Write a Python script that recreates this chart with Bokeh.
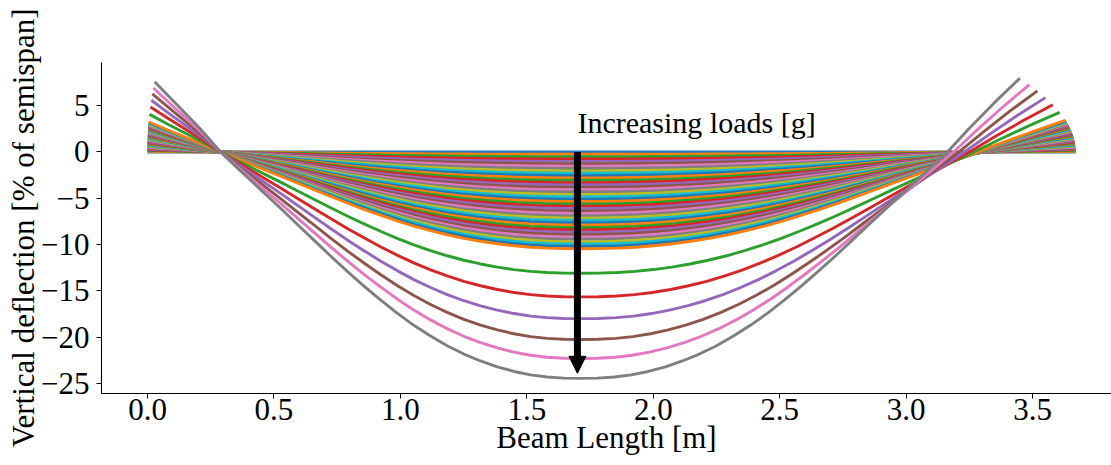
import numpy as np
from bokeh.plotting import figure
from bokeh.models import Range1d, FixedTicker, Arrow, NormalHead, Label
from bokeh.embed import file_html
from bokeh.resources import INLINE

# Peak (minimum) vertical deflection of each load case [% of semispan]
max_deflection = [
    0.0, -0.25, -0.51, -0.76, -1.02, -1.27, -1.53, -1.78, -2.04, -2.29,
    -2.55, -2.80, -3.06, -3.31, -3.57, -3.82, -4.08, -4.33, -4.59, -4.84,
    -5.10, -5.35, -5.61, -5.86, -6.12, -6.37, -6.63, -6.88, -7.14, -7.39,
    -7.65, -7.90, -8.16, -8.41, -8.67, -8.92, -9.18, -9.43, -9.69, -9.94,
    -10.20, -10.45,
    -13.1, -15.65, -18.0, -20.25, -22.3, -24.45,
]

# Deformed shape of the heaviest load case (x [m], deflection [%])
profile_x_max = [0.028, 0.10, 0.20, 0.289, 0.35, 0.42, 0.526, 0.592, 0.658, 0.724,
                 0.790, 0.856, 0.921, 0.987, 1.053, 1.119, 1.185, 1.251, 1.317, 1.383,
                 1.449, 1.515, 1.580, 1.646, 1.712, 1.779, 1.847, 1.913, 1.980, 2.048,
                 2.115, 2.182, 2.250, 2.317, 2.384, 2.452, 2.519, 2.585, 2.652, 2.720,
                 2.787, 2.854, 2.922, 3.030, 3.101, 3.163, 3.25, 3.35, 3.45]
profile_y_max = [7.58, 5.55, 2.75, 0.0, -1.58, -3.38, -6.08, -7.80, -9.52, -11.23,
                 -12.90, -14.48, -15.98, -17.40, -18.72, -19.88, -20.92, -21.82, -22.57, -23.20,
                 -23.70, -24.07, -24.30, -24.42, -24.45, -24.42, -24.30, -24.07, -23.70, -23.20,
                 -22.57, -21.82, -20.92, -19.88, -18.72, -17.40, -15.98, -14.48, -12.90, -11.23,
                 -9.52, -7.80, -6.08, -3.38, -1.58, 0.0, 2.55, 5.35, 7.97]
# Undeformed (no load) position of the same beam points [m]
profile_x_rest = [0.0, 0.075, 0.185, 0.289, 0.35, 0.42, 0.526, 0.592, 0.658, 0.724,
                  0.790, 0.856, 0.921, 0.987, 1.053, 1.119, 1.185, 1.251, 1.317, 1.383,
                  1.449, 1.515, 1.580, 1.646, 1.712, 1.786, 1.861, 1.934, 2.008, 2.083,
                  2.157, 2.231, 2.306, 2.379, 2.453, 2.528, 2.602, 2.675, 2.749, 2.824,
                  2.898, 2.972, 3.047, 3.166, 3.244, 3.310, 3.420, 3.545, 3.670]

tab10 = ['#1f77b4', '#ff7f0e', '#2ca02c', '#d62728', '#9467bd',
         '#8c564b', '#e377c2', '#7f7f7f', '#bcbd22', '#17becf']

xr = np.array(profile_x_rest, dtype=float)
xm = np.array(profile_x_max, dtype=float)
ym = np.array(profile_y_max, dtype=float)
ymin_ref = float(ym.min())

xs, ys, cols = [], [], []
for k, d in enumerate(max_deflection):
    r = d / ymin_ref
    xs.append(list(xr + (xm - xr) * r * r))
    ys.append(list(ym * r))
    cols.append(tab10[k % 10])

FONT = "Liberation Serif"
TICK_FS = "31px"
LABEL_FS = "31px"

X_START, X_END = -0.182, 3.812
Y_START, Y_END = -26.08, 9.66

p = figure(width=1111, height=465, output_backend="svg", toolbar_location=None,
           x_range=Range1d(X_START, X_END), y_range=Range1d(Y_START, Y_END),
           min_border_left=101, min_border_right=0, min_border_top=62, min_border_bottom=72)
p.background_fill_color = "white"
p.border_fill_color = "white"
p.outline_line_color = None
p.grid.visible = False

p.multi_line(xs=xs, ys=ys, line_color=cols, line_width=2.9, line_join="round")

# arrow
arrow_x = 1.70
arrow_top = 0.0
arrow_tip = -23.9
head_len = 1.75
p.segment(x0=[arrow_x], y0=[arrow_top], x1=[arrow_x], y1=[arrow_tip + head_len],
          line_color="black", line_width=7, line_cap="butt")
p.add_layout(Arrow(end=NormalHead(size=17, fill_color="black", line_color="black", line_width=1),
                   x_start=arrow_x, y_start=arrow_tip + head_len, x_end=arrow_x, y_end=arrow_tip,
                   line_alpha=0))
p.add_layout(Label(x=arrow_x, y=3.15, text="Increasing loads [g]", text_font=FONT,
                   text_font_size="30px", text_color="black", text_baseline="alphabetic",
                   text_align="left"))

x_ticks = [0.0, 0.5, 1.0, 1.5, 2.0, 2.5, 3.0, 3.5]
y_ticks = [-25, -20, -15, -10, -5, 0, 5]
p.xaxis.ticker = FixedTicker(ticks=x_ticks)
p.yaxis.ticker = FixedTicker(ticks=y_ticks)
p.yaxis.major_label_overrides = {t: (str(t).replace("-", "\u2212")) for t in y_ticks}
p.xaxis.major_label_overrides = {t: f"{t:.1f}" for t in x_ticks}

for ax in (p.xaxis[0], p.yaxis[0]):
    ax.minor_tick_line_color = None
    ax.major_tick_out = 5
    ax.major_tick_in = 0
    ax.axis_line_color = "black"
    ax.major_tick_line_color = "black"
    ax.axis_line_width = 1.1
    ax.major_label_text_font = FONT
    ax.major_label_text_font_size = TICK_FS
    ax.major_label_text_color = "black"
    ax.axis_label_text_font = FONT
    ax.axis_label_text_font_size = LABEL_FS
    ax.axis_label_text_font_style = "normal"
    ax.axis_label_text_color = "black"

p.xaxis.axis_label = "Beam Length [m]"
p.yaxis.axis_label = "Vertical deflection [% of semispan]"
p.xaxis.major_label_standoff = 0
p.yaxis.major_label_standoff = 7
p.xaxis.axis_label_standoff = -3
p.yaxis.axis_label_standoff = -3

open("out.html", "w").write(file_html(p, INLINE))
